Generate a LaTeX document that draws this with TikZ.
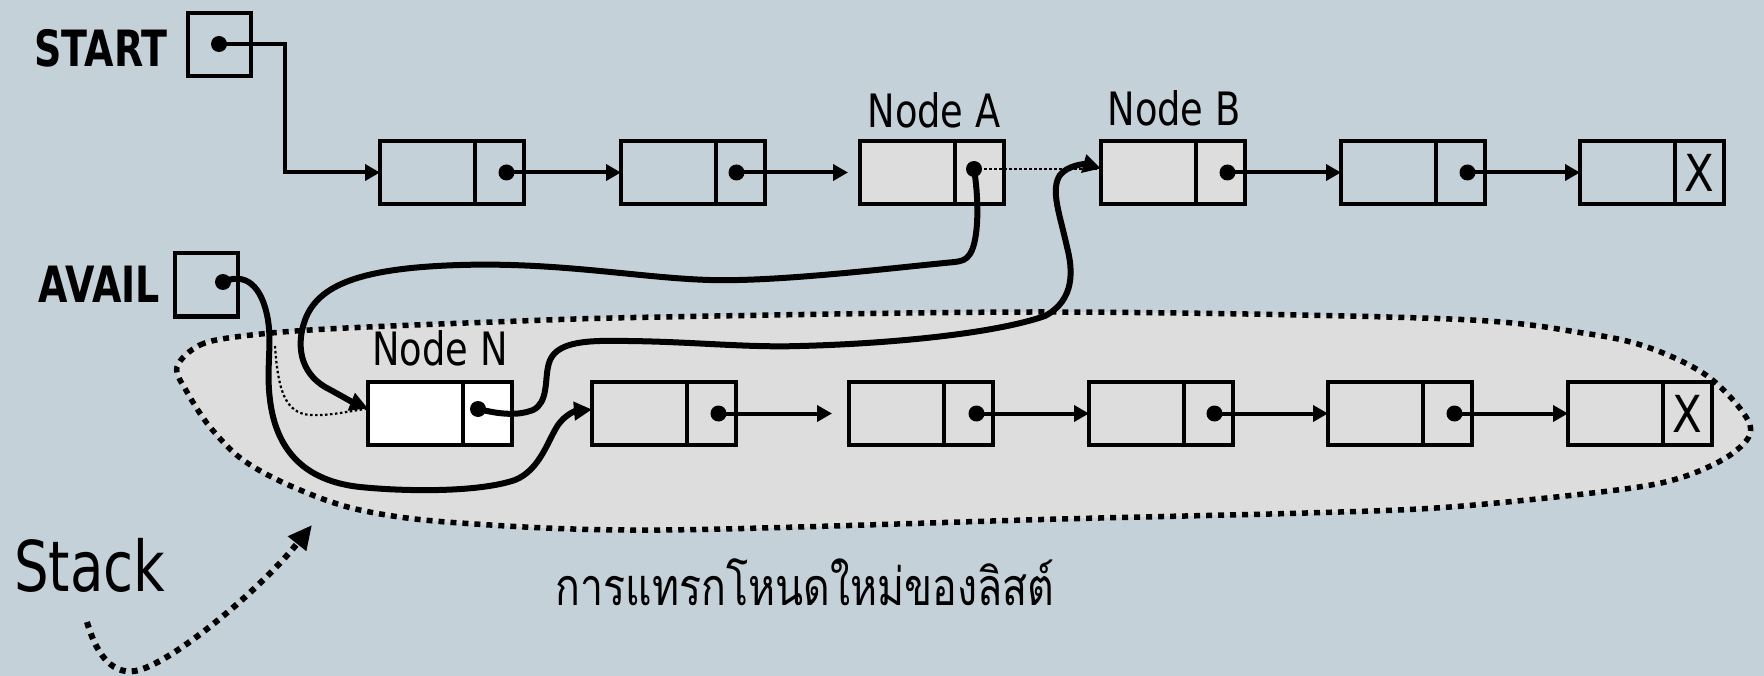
\documentclass[tikz,border=0pt]{standalone}
\usepackage{fontspec}
\newfontfamily\lblfont{DejaVu Sans}[FakeStretch=0.8]
\newfontfamily\xfont{DejaVu Sans}[FakeStretch=0.85]
\newfontfamily\lblbold{DejaVu Sans}[FakeStretch=0.76]
\newfontfamily\stackfont{DejaVu Sans}[FakeStretch=0.78]
\newfontfamily\thaifont{Loma}[Script=Thai, FakeStretch=0.79]
\usetikzlibrary{arrows.meta,calc}
\definecolor{bgc}{RGB}{197,209,216}
\definecolor{lgray}{RGB}{221,221,221}
\begin{document}
\begin{tikzpicture}[x=1pt,y=-1pt,
  cell/.style={draw, line width=4pt, inner sep=0pt, outer sep=0pt, minimum height=63pt, anchor=west},
  dcell/.style={cell, minimum width=95pt},
  pcell/.style={cell, minimum width=49pt, font=\xfont\fontsize{51}{51}\selectfont},
  graybox/.style={fill=lgray},
  pdot/.style={circle, fill=black, inner sep=0pt, minimum size=16pt},
  ptr/.style={line width=4pt, -{Triangle[length=15pt,width=16pt]}},
  link/.style={line width=6pt, -{Triangle[length=18pt,width=18pt]}},
  thindots/.style={line width=2.2pt, dash pattern=on 2.5pt off 2.5pt},
  blob/.style={fill=lgray, line width=5.5pt, dash pattern=on 6pt off 6pt},
  stackarrow/.style={line width=6pt, dash pattern=on 6pt off 6pt, -{Triangle[length=24pt,width=22pt]}},
  lbl/.style={font=\lblfont\fontsize{46}{46}\selectfont, inner sep=0pt, anchor=base},
  blbl/.style={font=\lblbold\bfseries\fontsize{50}{50}\selectfont, inner sep=0pt, anchor=base east},
]
\fill[bgc] (0,0) rectangle (1764,676);
\useasboundingbox (0,0) rectangle (1764,676);

% stack region
\draw[blob] plot[smooth cycle, tension=0.55] coordinates {
  (177,367) (200,345) (243,336) (327,329) (493,322) (660,317) (1060,312)
  (1450,319) (1583,333) (1650,348) (1710,378) (1750,425) (1733,453)
  (1683,477) (1617,490) (1450,507) (1306,513) (1060,519) (660,530)
  (460,523) (360,510) (293,487) (243,460) (210,427) (187,392)};

% labels
\node[blbl] (startlbl) at (168,67) {START};
\node[blbl] (availlbl) at (160,302) {AVAIL};
\node[cell, minimum width=63pt, anchor=center] (sbox) at (219.5,45) {};
\node[cell, minimum width=63pt, anchor=center] (abox) at (206.5,285) {};

% top row
\node[dcell] (t1d) at (380,172.5) {};
\node[pcell] (t1p) at (t1d.east) {};
\node[dcell] (t2d) at (621,172.5) {};
\node[pcell] (t2p) at (t2d.east) {};
\node[dcell, graybox] (tAd) at (860,172.5) {};
\node[pcell, graybox] (tAp) at (tAd.east) {};
\node[dcell, graybox] (tBd) at (1101,172.5) {};
\node[pcell, graybox] (tBp) at (tBd.east) {};
\node[dcell] (t5d) at (1341,172.5) {};
\node[pcell] (t5p) at (t5d.east) {};
\node[dcell] (t6d) at (1580,172.5) {};
\node[pcell] (t6p) at (t6d.east) {X};
\node[lbl] (lblA) at (934,128) {Node A};
\node[lbl] (lblB) at (1174,126) {Node B};

% bottom row
\node[dcell, fill=white] (nNd) at (368,413.5) {};
\node[pcell, fill=white] (nNp) at (nNd.east) {};
\node[dcell] (b1d) at (592,413.5) {};
\node[pcell] (b1p) at (b1d.east) {};
\node[dcell] (b2d) at (849,413.5) {};
\node[pcell] (b2p) at (b2d.east) {};
\node[dcell] (b3d) at (1089,413.5) {};
\node[pcell] (b3p) at (b3d.east) {};
\node[dcell] (b4d) at (1328,413.5) {};
\node[pcell] (b4p) at (b4d.east) {};
\node[dcell] (b5d) at (1568,413.5) {};
\node[pcell] (b5p) at (b5d.east) {X};
\node[lbl] (lblN) at (440,365) {Node N};

% dots
\node[pdot] (sdot) at (219,44) {};
\node[pdot] (adot) at (223,282) {};
\node[pdot] (t1dot) at ($(t1p.center)+(7,0)$) {};
\node[pdot] (t2dot) at ($(t2p.center)+(-4,0)$) {};
\node[pdot] (tAdot) at (974,169) {};
\node[pdot] (tBdot) at ($(tBp.center)+(7,0)$) {};
\node[pdot] (t5dot) at ($(t5p.center)+(7,0)$) {};
\node[pdot] (nNdot) at (478,409) {};
\node[pdot] (b1dot) at ($(b1p.center)+(7,0)$) {};
\node[pdot] (b2dot) at ($(b2p.center)+(8,0)$) {};
\node[pdot] (b3dot) at ($(b3p.center)+(6,0)$) {};
\node[pdot] (b4dot) at ($(b4p.center)+(7,0)$) {};

% straight pointers
\draw[ptr] (sdot.center) -| ($(t1d.west)+(-95,0)$) -- (t1d.west);
\draw[ptr] (t1dot.center) -- (t2d.west);
\draw[ptr, shorten >=12pt] (t2dot.center) -- (tAd.west);
\draw[ptr] (tBdot.center) -- (t5d.west);
\draw[ptr] (t5dot.center) -- (t6d.west);
\draw[ptr, shorten >=17pt] (b1dot.center) -- (b2d.west);
\draw[ptr] (b2dot.center) -- (b3d.west);
\draw[ptr] (b3dot.center) -- (b4d.west);
\draw[ptr] (b4dot.center) -- (b5d.west);

% old links (thin dotted)
\draw[thindots] (tAdot.center) -- (tAdot.center -| tBd.west);
\coordinate (brk) at (275,346);
\draw[thindots] (brk) .. controls (278,390) and (285,413) .. (310,415)
  .. controls (330,416) and (350,411) .. ($(nNd.west)+(0,-5)$);

% new links (thick)
\draw[link] (tAdot.center) .. controls (979,200) and (979,240) .. (970,254)
  .. controls (966,260) and (962,261) .. (955,262)
  .. controls (900,267) and (780,282) .. (710,280)
  .. controls (640,278) and (560,262) .. (460,265)
  .. controls (360,268) and (318,285) .. (305,320)
  .. controls (296,345) and (300,372) .. (325,387)
  .. controls (340,395) and (352,402) .. ($(nNd.west)+(0,-5)$);
\draw[link] (adot.center) .. controls (245,272) and (262,285) .. (268,320)
  .. controls (272,345) and (266,370) .. (270,400)
  .. controls (275,440) and (295,480) .. (360,487)
  .. controls (410,492) and (480,492) .. (515,480)
  .. controls (540,470) and (548,440) .. (558,425)
  .. controls (565,415) and (575,411) .. ($(b1d.west)+(0,-4)$);
\draw[link] (nNdot.center) .. controls (495,413) and (515,417) .. (533,410)
  .. controls (548,403) and (545,380) .. (548,367)
  .. controls (551,350) and (565,342) .. (600,341)
  .. controls (680,340) and (740,348) .. (800,346)
  .. controls (880,344) and (990,335) .. (1045,316)
  .. controls (1075,300) and (1073,270) .. (1067,247)
  .. controls (1060,215) and (1050,190) .. (1060,175)
  .. controls (1068,165) and (1085,164) .. ($(tBd.west)+(0,-4)$);

% stack
\node[font=\stackfont\fontsize{70}{70}\selectfont, inner sep=0pt, anchor=base west] (stacklbl) at (14,591) {Stack};
\coordinate (sk0) at (87,622);
\coordinate (sk1) at (312,525);
\draw[stackarrow] (sk0) .. controls (95,650) and (110,675) .. (135,671)
  .. controls (170,665) and (260,590) .. (sk1);

% caption
\node[font=\thaifont\fontsize{52}{52}\selectfont, inner sep=0pt, anchor=base] (caption) at (805,605) {การแทรกโหนดใหม่ของลิสต์};
\end{tikzpicture}
\end{document}
